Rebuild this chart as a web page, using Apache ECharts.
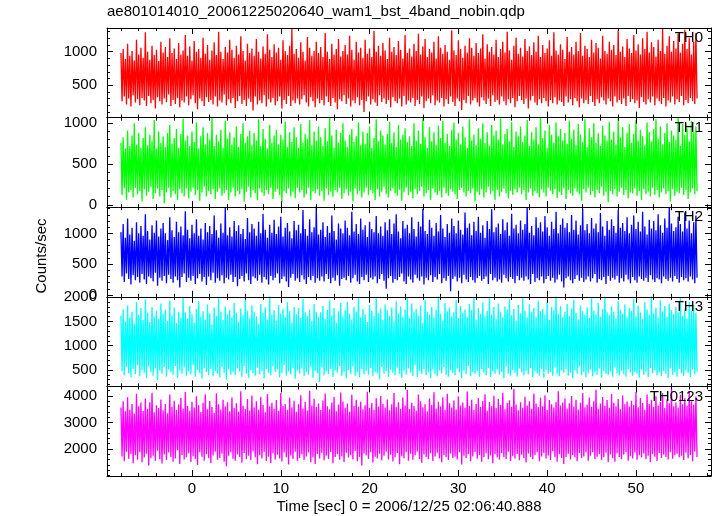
<!DOCTYPE html>
<html>
<head>
<meta charset="utf-8">
<script src="https://cdn.jsdelivr.net/npm/echarts@6/dist/echarts.min.js"></script>
<style>
html,body{margin:0;padding:0;background:#fff;}
#chart{width:717px;height:516px;}
</style>
</head>
<body>
<div id="chart"></div>
<script>
// ---- data (counts/sec per bin) ----
const binStart = -8.0;    // sec
const binWidth = 0.125;   // sec

const th0 = [
980,260,1040,330,890,210,1120,300,940,180,1010,350,870,240,1180,290,960,200,1060,310,
910,270,1290,190,1000,340,880,230,1090,280,950,150,1030,320,860,260,1150,210,990,300,
1070,250,920,360,1200,190,980,280,1050,220,890,310,1130,170,960,270,1020,240,1250,330,
940,200,1080,290,870,350,1160,230,1000,140,1040,300,910,260,1210,190,970,320,1100,250,
880,280,1020,210,1140,330,950,180,1300,270,1000,240,890,360,1070,200,990,290,1180,230,
1030,310,910,160,1090,260,960,340,1230,220,1010,280,870,190,1120,300,980,250,1050,120,
940,330,1190,210,1000,270,900,230,1080,350,970,180,1260,290,1030,240,920,310,1110,200,
990,260,1060,330,880,150,1170,280,1010,220,950,340,1090,190,1340,270,970,230,1040,300,
910,210,1140,290,1000,350,870,240,1220,180,1060,320,940,260,1010,170,1150,300,980,230,
1070,280,920,200,1280,330,1000,250,890,190,1120,310,960,240,1040,140,1190,290,930,260,
1010,350,1100,220,960,300,1240,180,1030,270,880,230,1150,320,990,200,1060,280,910,100,
1180,260,970,330,1050,210,920,290,1310,240,1000,190,1090,350,940,250,1130,300,1020,220,
890,280,1210,170,1000,320,1070,260,950,230,1160,300,1030,180,900,340,1250,210,980,270,
1050,240,930,310,1120,190,1010,280,1270,220,960,330,1080,160,1190,260,920,300,1040,230,
990,350,1150,200,900,270,1230,240,1060,310,970,180,1100,290,1000,220,880,330,1320,250,
1020,190,950,300,1170,260,1040,130,910,280,1090,230,990,340,1200,210,1060,270,940,310,
1130,240,980,180,1050,320,1260,270,900,220,1110,300,1000,190,1070,350,960,250,1180,280,
920,210,1040,330,1150,260,990,200,1300,290,1020,230,880,310,1090,170,1210,260,970,340,
1060,280,930,220,1190,300,1010,150,1080,270,950,340,1140,240,1000,200,1240,290,920,230,
1100,310,980,260,1050,180,1170,280,940,230,1290,320,1020,210,960,270,1110,250,1030,190,
890,330,1220,240,1000,290,1070,200,960,310,1150,260,1010,170,1280,300,940,230,1090,280,
1040,220,920,340,1180,250,990,190,1130,290,1060,230,900,320,1240,270,1010,210,970,300,
1150,260,1030,180,1100,330,950,240,1320,280,1000,220,1080,300,920,190,1190,340,1050,250,
980,290,1250,230,1020,270,1110,160,960,320,1200,250,1040,210,1300,290,990,240,1140,330,
1070,200,930,300,1180,260,1010,220,1340,310,970,180,1090,270,1230,240,1000,330,1160,210,
1050,290,1270,250,990,340,1120,200,1330,280,1040,230,1200,310,960,260,1150,220,1280,300
];
const th1 = [
760,120,830,200,690,60,910,150,720,180,850,90,1000,210,740,130,880,170,700,40,
820,190,950,110,730,160,860,220,780,70,1040,140,690,200,900,100,760,180,840,20,
710,150,880,210,980,90,750,170,820,130,930,60,700,190,870,140,1060,100,790,200,
850,80,720,160,900,210,770,120,1010,180,690,50,840,150,950,220,740,100,880,170,
800,130,1070,190,720,70,860,160,780,200,920,110,700,140,1030,180,810,60,890,150,
740,210,830,100,960,170,710,130,870,190,1000,40,760,160,840,220,910,90,730,180,
880,140,790,60,1050,200,720,150,930,110,810,180,690,130,980,210,760,70,850,160,
920,190,740,120,860,30,800,170,1020,140,710,200,890,100,770,160,950,80,830,210,
700,150,990,180,760,90,870,130,810,210,1040,60,730,170,900,140,790,190,960,110,
830,170,720,50,940,200,780,120,1070,160,850,100,700,180,920,150,760,210,880,70,
1000,140,790,190,710,110,860,160,930,40,770,200,840,130,1010,170,730,90,900,150,
750,210,880,120,960,180,700,140,820,60,1050,190,780,100,910,160,850,220,740,130,
870,90,1020,170,760,200,890,140,710,110,980,180,800,50,860,150,940,210,770,120,
840,160,720,80,1000,190,790,130,910,170,750,220,1060,100,830,140,700,180,950,60,
780,200,890,150,730,120,970,170,820,90,1030,210,760,140,870,110,720,190,920,160,
1010,130,800,70,880,180,740,210,960,150,830,100,700,170,1050,140,790,200,860,40,
730,160,940,120,810,190,1000,90,760,150,890,220,720,130,980,170,850,60,910,180,
800,100,1060,160,740,200,870,140,930,80,780,170,1020,120,710,190,900,150,840,210,
960,130,770,180,850,60,1040,150,720,200,890,110,800,170,950,140,740,90,1070,190,
820,150,910,100,700,210,980,170,860,130,760,190,1010,80,840,160,930,120,790,200,
880,70,750,180,1030,140,810,110,920,200,730,160,990,130,860,50,770,190,1050,150,
710,210,940,120,830,170,1000,90,760,180,880,140,720,220,970,110,850,160,790,30,
1020,170,800,130,900,190,740,100,1060,160,830,210,950,120,710,180,880,80,990,150,
760,140,870,200,1040,110,790,170,920,60,840,190,730,130,1010,160,890,100,780,210,
930,120,1050,180,810,90,960,150,740,200,880,130,1000,170,770,40,910,190,850,110,
800,160,1070,140,720,210,990,120,860,180,940,70,780,150,1030,200,890,130,960,170
];
const th2 = [
1020,300,1150,210,930,350,1240,260,980,170,1090,320,880,240,1180,290,1000,200,1120,340,
960,250,1310,180,1040,300,900,270,1130,220,1010,360,1210,150,950,280,1080,230,1170,310,
1000,190,890,330,1260,260,1050,200,940,300,1190,240,1020,120,1110,290,970,350,1360,210,
1060,280,920,230,1140,310,1000,180,1230,270,960,340,1080,220,900,290,1170,160,1020,300,
1120,240,990,360,1290,200,1050,270,930,230,1160,320,1010,190,1420,280,970,250,1100,330,
950,210,1200,290,1040,140,1130,260,990,310,1070,220,910,350,1250,240,1020,180,1150,300,
1080,270,960,230,1190,330,1000,200,1320,290,1060,250,930,170,1140,310,1010,240,1220,280,
990,350,1110,190,1270,260,950,300,1090,220,1170,130,1030,280,920,340,1200,230,1050,270,
1140,210,1000,320,1380,250,1070,180,960,290,1230,240,1020,310,1100,200,1440,270,980,230,
1060,300,1180,220,940,340,1120,260,1010,190,1290,280,1040,230,900,320,1160,150,1080,260,
1000,280,1210,240,1090,310,970,200,1350,270,1030,330,1150,220,990,180,1240,290,1060,240,
1130,330,940,210,1190,280,1070,250,1020,300,1280,190,1000,260,1110,340,960,230,1180,100,
1050,270,1230,310,990,200,1160,260,1310,240,1030,290,920,350,1200,220,1080,180,1140,300,
1000,250,1260,200,1070,330,950,270,1190,230,1110,300,1400,170,1040,280,990,240,1220,320,
1090,210,960,290,1170,250,1030,340,1300,190,1080,270,940,230,1150,310,1010,60,1240,260,
1120,300,1000,220,1210,280,1060,190,980,330,1340,250,1090,210,1160,290,970,240,1190,200,
1040,270,1270,310,1010,230,1130,260,930,300,1200,180,1070,340,1390,240,1020,280,1100,220,
1160,250,990,200,1230,330,1050,270,1180,220,960,290,1320,260,1080,190,1140,310,1000,240,
1210,280,1060,230,1150,300,1430,250,1010,180,1120,340,970,210,1260,270,1090,240,1180,300,
1030,190,1280,260,1100,310,960,230,1190,280,1070,200,1350,250,1000,330,1140,220,1240,120,
1090,270,1170,300,1020,240,1300,190,1060,260,1210,320,980,230,1130,280,1400,210,1050,250,
1150,300,1000,220,1250,270,1080,340,1160,200,1020,260,1330,240,1110,290,960,180,1200,310,
1060,230,1230,280,1120,250,1010,310,1380,200,1090,270,1170,220,1040,330,1260,250,1000,190,
1140,290,1290,240,1070,200,1190,300,1030,260,1350,230,1110,280,980,210,1220,320,1080,250,
1200,210,1050,270,1310,250,1130,190,1010,300,1240,260,1090,230,1420,280,1160,220,1040,310,
1100,260,1270,200,1150,290,1030,240,1340,270,1080,220,1210,300,1000,250,1180,190,1290,280
];
const th3 = [
1620,480,1750,390,1500,560,1830,430,1580,350,1700,520,1450,410,1900,600,1640,370,1780,500,
1530,440,1960,330,1680,570,1490,460,1800,380,1610,530,1720,290,1550,490,1870,420,1660,560,
1740,360,1510,510,1930,450,1630,400,1790,580,1470,340,1700,490,1580,420,2000,550,1690,380,
1560,470,1820,410,1650,600,1480,360,1760,500,1920,430,1600,320,1710,540,1540,460,1850,390,
1670,520,1440,370,1790,480,1620,420,1990,350,1700,560,1530,440,1810,300,1650,510,1740,400,
1590,450,1880,390,1680,530,1500,470,1770,360,1630,580,1950,420,1720,340,1560,500,1830,430,
1700,380,1610,550,1460,410,1860,480,1680,330,1790,520,1540,440,2020,390,1640,570,1730,460,
1520,510,1840,350,1660,430,1760,600,1590,380,1900,470,1710,410,1480,540,1800,320,1650,490,
1780,420,1570,530,1970,370,1690,460,1620,400,1750,560,1510,340,1860,480,1700,430,1600,250,
1690,550,1820,390,1550,470,1740,410,1940,520,1630,360,1780,490,1480,440,1710,580,1880,380,
1600,460,1730,330,1910,500,1660,420,1540,570,1800,380,1700,450,2010,350,1590,520,1760,410,
1650,490,1490,400,1840,540,1720,370,1610,460,1980,430,1680,310,1770,560,1530,420,1850,480,
1730,360,1620,510,1790,440,1500,390,1920,550,1670,420,1810,340,1590,490,1740,400,1990,530,
1560,440,1870,380,1690,600,1760,350,1620,480,1830,420,1470,520,1950,390,1700,460,1640,330,
1800,510,1580,420,1740,370,2030,490,1660,430,1520,560,1880,400,1710,360,1790,500,1610,440,
1690,390,1940,530,1570,450,1820,330,1680,490,1750,410,1600,580,1860,370,1730,460,2000,420,
1540,480,1780,360,1660,520,1890,440,1610,390,1720,540,1990,350,1640,470,1800,420,1550,510,
1870,400,1700,460,1590,330,1810,570,1740,420,1960,380,1630,500,1760,440,1520,360,1840,530,
1670,450,2010,390,1720,480,1580,410,1850,540,1690,350,1780,470,1600,430,1930,380,1710,520,
1760,340,1640,500,1900,420,1530,460,1800,380,1730,550,2020,410,1660,370,1820,490,1590,440,
1700,520,1860,380,1620,440,1770,330,1950,500,1680,420,1540,570,1830,390,1710,460,1640,350,
1790,430,1570,510,1980,370,1720,450,1650,400,1880,530,1600,340,1760,480,2000,420,1690,390,
1630,470,1810,360,1700,550,1560,430,1920,390,1740,490,1660,410,1850,360,1590,520,1780,450,
1720,380,1970,460,1610,420,1830,340,1690,510,1550,400,1900,470,1750,350,1640,540,2040,430,
1670,500,1790,390,1580,450,1940,370,1710,480,1820,420,1600,330,1870,530,1730,400,1650,460,
1800,360,1690,520,2010,430,1620,380,1760,490,1560,440,1910,350,1720,510,1840,410,1680,470
];
const th0123 = [
3560,1720,3800,1540,3420,1900,3950,1630,3480,1810,3700,1460,3340,1760,4080,1590,3610,1880,3750,1500,
3430,1680,3900,1820,3520,1380,3760,1650,4120,1740,3380,1560,3650,1930,3540,1610,3870,1450,3460,1790,
3700,1580,3350,1870,4050,1700,3590,1520,3820,1640,3470,1950,3680,1430,3920,1770,3530,1600,4150,1690,
3620,1840,3440,1510,3780,1730,3560,1620,3990,1400,3650,1880,3390,1710,3740,1560,4060,1800,3500,1650,
3810,1470,3580,1750,3360,1900,4100,1590,3690,1660,3490,1820,3860,1520,3600,1350,3760,1740,3420,1880,
3940,1630,3540,1560,3720,1790,3410,1700,4180,1480,3630,1850,3510,1620,3880,1740,3450,1580,4020,1910,
3570,1690,3800,1420,3480,1760,3960,1640,3660,1890,3380,1550,4070,1710,3600,1470,3740,1830,3520,1600,
3850,1780,3440,1640,4110,1530,3620,1870,3700,1690,3480,1410,3930,1750,3560,1620,3820,1900,3400,1560,
3690,1660,4030,1800,3530,1580,3770,1720,3450,1870,4200,1500,3640,1690,3890,1430,3580,1810,3710,1640,
3470,1850,3830,1570,4090,1740,3610,1620,3500,1890,3750,1460,3960,1700,3420,1810,3680,1590,4130,1730,
3790,1510,3550,1860,3710,1680,3400,1760,4040,1600,3620,1920,3860,1540,3590,1700,3780,1380,3500,1830,
3650,1750,4160,1620,3540,1880,3730,1490,3480,1710,3910,1640,3600,1820,4000,1570,3700,1740,3560,1900,
3870,1600,3460,1780,3690,1530,4110,1690,3580,1850,3760,1420,3520,1730,3940,1650,3640,1880,4220,1560,
3510,1820,3740,1590,3620,1760,3450,1900,4050,1620,3800,1480,3570,1790,3690,1700,3420,1610,3900,1840,
3660,1550,4140,1720,3530,1860,3780,1640,3600,1500,3950,1770,3480,1690,4080,1580,3720,1830,3560,1650,
3830,1710,3490,1600,3990,1880,3640,1410,3750,1740,3550,1660,4170,1800,3620,1540,3860,1720,3470,1890,
3700,1630,3920,1770,3580,1520,3810,1690,4060,1840,3440,1610,3770,1750,3610,1460,4010,1800,3540,1680,
3890,1590,3660,1850,4120,1700,3500,1620,3730,1900,3840,1550,3590,1730,4260,1640,3680,1810,3460,1570,
3760,1780,3550,1660,3970,1490,3640,1830,3800,1700,3520,1610,4090,1760,3710,1880,3580,1540,3930,1720,
3610,1850,4030,1640,3470,1750,3850,1580,3690,1910,3560,1690,3780,1520,4180,1800,3640,1660,3750,1430,
3900,1700,3530,1820,3720,1600,4000,1770,3600,1690,3860,1540,3490,1850,3740,1650,4110,1720,3570,1880,
3680,1560,3940,1740,3590,1880,3800,1620,4230,1710,3520,1800,3710,1580,3960,1690,3630,1860,3850,1500,
3550,1790,4070,1650,3740,1520,3610,1840,3880,1700,3500,1610,4020,1780,3690,1890,3790,1560,3600,1730,
3820,1640,3660,1870,4150,1590,3570,1760,3920,1680,3730,1830,3480,1620,4050,1740,3700,1510,3860,1800,
3590,1710,3990,1550,3640,1850,3780,1660,4100,1790,3540,1700,3870,1600,3720,1880,4280,1630,3610,1760,
3750,1820,3560,1690,4040,1740,3690,1580,3910,1860,3630,1650,4190,1770,3800,1540,3670,1900,3980,1700
];

// panel names
const bandNames = ['TH0','TH1','TH2','TH3','TH0123'];

// tick values
const xMajorTicks = [0,10,20,30,40,50];
const xMinorTicks = [-8,-6,-4,-2,2,4,6,8,12,14,16,18,22,24,26,28,32,34,36,38,42,44,46,48,52,54,56,58];
const yMajorTicks = [
  [500,1000],
  [0,500,1000],
  [0,500,1000],
  [500,1000,1500,2000],
  [2000,3000,4000]
];
const yMinorTicks = [
  [100,200,300,400,600,700,800,900,1100,1200,1300],
  [100,200,300,400,600,700,800,900],
  [100,200,300,400,600,700,800,900,1100,1200,1300,1400],
  [200,300,400,600,700,800,900,1100,1200,1300,1400,1600,1700,1800,1900],
  [1000,1200,1400,1600,1800,2200,2400,2600,2800,3200,3400,3600,3800,4200]
];

const titleText = 'ae801014010_20061225020640_wam1_bst_4band_nobin.qdp';
const xTitle = 'Time [sec] 0 = 2006/12/25 02:06:40.888';
const yTitle = 'Counts/sec';

// ---- layout / style (kept separate from data) ----
const seriesData = [th0, th1, th2, th3, th0123];
const colors = ['#ff0000','#00ff00','#0000ff','#00ffff','#ff00ff'];
const yRanges = [[15,1355],[-30,1070],[-30,1425],[160,2010],[980,4360]];
const xRange = [-9.57, 58.45];
const plotLeft = 107, plotRight = 711, plotTop = 28, plotBottom = 476;
const nP = 5;
const pH = (plotBottom - plotTop) / nP;
const FONT = '"Liberation Sans", Arial, Helvetica, sans-serif';
const plain = v => String(v);

const grids = [], xAxes = [], yAxes = [], series = [], graphics = [];

for (let i = 0; i < nP; i++) {
  const top = plotTop + i * pH;
  grids.push({left: plotLeft, width: plotRight - plotLeft, top: top, height: pH, show: false, containLabel: false});
  const isLast = i === nP - 1;
  const lineSty = {show: true, onZero: false, lineStyle: {color: '#000', width: 1}};
  const noLine = {show: false, onZero: false};
  const mkX = (pos, vals, len, label, line) => ({
    type: 'value', gridIndex: i, position: pos, min: xRange[0], max: xRange[1],
    axisLine: line ? lineSty : noLine,
    axisTick: {show: true, inside: true, length: len, customValues: vals, lineStyle: {color: '#000', width: 1}},
    axisLabel: label ? {show: true, customValues: vals, formatter: plain, color: '#000', fontSize: 15, fontFamily: FONT, margin: 5} : {show: false},
    splitLine: {show: false}, minorTick: {show: false}, z: 10
  });
  xAxes.push(mkX('bottom', xMajorTicks, 6, isLast, true));
  xAxes.push(mkX('bottom', xMinorTicks, 3, false, false));
  xAxes.push(mkX('top', xMajorTicks, 6, false, true));
  xAxes.push(mkX('top', xMinorTicks, 3, false, false));
  const mkY = (pos, vals, len, label, line) => ({
    type: 'value', gridIndex: i, position: pos, min: yRanges[i][0], max: yRanges[i][1],
    axisLine: line ? lineSty : noLine,
    axisTick: {show: true, inside: true, length: len, customValues: vals, lineStyle: {color: '#000', width: 1}},
    axisLabel: label ? {show: true, customValues: vals, formatter: plain, color: '#000', fontSize: 15, fontFamily: FONT, margin: 10} : {show: false},
    splitLine: {show: false}, minorTick: {show: false}, z: 10
  });
  yAxes.push(mkY('left', yMajorTicks[i], 6, true, true));
  yAxes.push(mkY('left', yMinorTicks[i], 3, false, false));
  yAxes.push(mkY('right', yMajorTicks[i], 6, false, true));
  yAxes.push(mkY('right', yMinorTicks[i], 3, false, false));

  series.push({
    type: 'line', xAxisIndex: i * 4, yAxisIndex: i * 4,
    data: seriesData[i].map((v, k) => [binStart + k * binWidth, v]),
    showSymbol: false, symbol: 'none', silent: true, sampling: null,
    lineStyle: {color: colors[i], width: 1.3},
    itemStyle: {color: colors[i]},
    clip: true, animation: false
  });

  graphics.push({
    type: 'text', x: 703, y: top + 10,
    style: {text: bandNames[i], font: '15px ' + FONT, fill: '#000',
            textAlign: 'right', textVerticalAlign: 'middle', align: 'right', verticalAlign: 'middle'},
    z: 100
  });
}

graphics.push({
  type: 'text', x: plotLeft, y: 12,
  style: {text: titleText, font: '15px ' + FONT, fill: '#000',
          textAlign: 'left', textVerticalAlign: 'middle', align: 'left', verticalAlign: 'middle'}
});
graphics.push({
  type: 'text', x: 409, y: 507,
  style: {text: xTitle, font: '15px ' + FONT, fill: '#000',
          textAlign: 'center', textVerticalAlign: 'middle', align: 'center', verticalAlign: 'middle'}
});
graphics.push({
  type: 'text', x: 42, y: 256, rotation: Math.PI / 2,
  style: {text: yTitle, font: '15px ' + FONT, fill: '#000',
          textAlign: 'center', textVerticalAlign: 'middle', align: 'center', verticalAlign: 'middle'}
});

const chart = echarts.init(document.getElementById('chart'), null, {renderer: 'canvas'});
chart.setOption({
  animation: false,
  backgroundColor: '#fff',
  grid: grids,
  xAxis: xAxes,
  yAxis: yAxes,
  series: series,
  graphic: graphics
});
</script>
</body>
</html>
